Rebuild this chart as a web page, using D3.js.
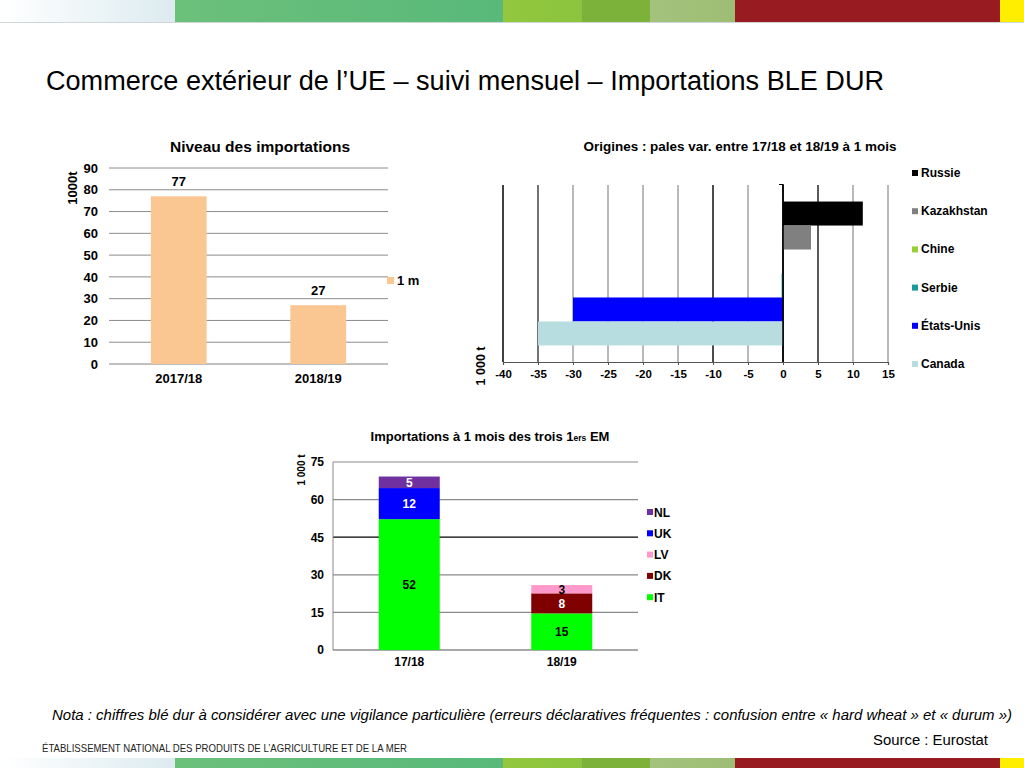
<!DOCTYPE html>
<html><head><meta charset="utf-8">
<script src="https://cdn.jsdelivr.net/npm/d3@7"></script>
<style>
html,body{margin:0;padding:0;background:#fff;}
svg{display:block;font-family:"Liberation Sans",Arial,sans-serif;}
</style></head>
<body>
<svg id="c" width="1024" height="768"></svg>
<script>
// ---------- data ----------
const c1Categories = ["2017/18", "2018/19"];
const c1Values = [77, 27];
const c1Ticks = [0, 10, 20, 30, 40, 50, 60, 70, 80, 90];
const c1Series = ["1 m"];

const c2Origins = ["Russie", "Kazakhstan", "Chine", "Serbie", "États-Unis", "Canada"];
const c2Values = [11.4, 4.0, 0, -0.2, -30, -35];
const c2Colors = ["#000000", "#808080", "#9ACD32", "#1A9A9A", "#0000FF", "#B7DDE0"];
const c2Ticks = [-40, -35, -30, -25, -20, -15, -10, -5, 0, 5, 10, 15];

const c3Categories = ["17/18", "18/19"];
const c3Series = ["IT", "DK", "LV", "UK", "NL"];
const c3IT = [52.2, 14.6];
const c3DK = [0, 8.0];
const c3LV = [0, 3.3];
const c3UK = [12.4, 0];
const c3NL = [4.6, 0];
const c3Colors = {IT: "#00FF00", DK: "#800000", LV: "#FF99CC", UK: "#0000FF", NL: "#7030A0"};
const c3LabelColors = {IT: "#000", DK: "#fff", LV: "#000", UK: "#fff", NL: "#fff"};
const c3Ticks = [0, 15, 30, 45, 60, 75];

const svg = d3.select("#c");
const defs = svg.append("defs");
const FF = "Liberation Sans, Arial, sans-serif";

// ---------- banners ----------
const bannerSegs = [
  {x0: 0, x1: 175, c0: "#ffffff", c1: "#dcebf0"},
  {x0: 175, x1: 503, c0: "#6cc07a", c1: "#58b97a"},
  {x0: 503, x1: 582, c0: "#92c73e", c1: "#8cc43e"},
  {x0: 582, x1: 650, c0: "#7cb23a", c1: "#7cb23a"},
  {x0: 650, x1: 735, c0: "#a3c27c", c1: "#9ebd74"},
  {x0: 735, x1: 1000, c0: "#971b20", c1: "#971b20"},
  {x0: 1000, x1: 1024, c0: "#ffee00", c1: "#ffee00"}
];
bannerSegs.forEach((s, i) => {
  const g = defs.append("linearGradient").attr("id", "bg" + i);
  g.append("stop").attr("offset", "0").attr("stop-color", s.c0);
  g.append("stop").attr("offset", "1").attr("stop-color", s.c1);
});
[[0, 22], [758, 10]].forEach(([y, h]) => {
  bannerSegs.forEach((s, i) => {
    svg.append("rect").attr("x", s.x0).attr("y", y).attr("width", s.x1 - s.x0).attr("height", h)
      .attr("fill", `url(#bg${i})`);
  });
});
svg.append("line").attr("x1", 0).attr("x2", 1024).attr("y1", 22.5).attr("y2", 22.5).attr("stroke", "#cfd6d8");

// ---------- main title ----------
svg.append("text").attr("x", 46).attr("y", 90).attr("font-size", 27).attr("fill", "#000")
  .attr("textLength", 838).attr("lengthAdjust", "spacingAndGlyphs")
  .text("Commerce extérieur de l’UE – suivi mensuel – Importations BLE DUR");

// ---------- chart 1 ----------
{
  const g = svg.append("g");
  const x = d3.scaleBand().domain(c1Categories).range([109, 388]).paddingInner(0.6).paddingOuter(0.3);
  const y = d3.scaleLinear().domain([0, 90]).range([364, 168]);
  g.append("text").attr("x", 260).attr("y", 152).attr("text-anchor", "middle")
    .attr("font-size", 15.5).attr("font-weight", "bold").text("Niveau des importations");
  c1Ticks.forEach(t => {
    g.append("line").attr("x1", 109).attr("x2", 388).attr("y1", y(t)).attr("y2", y(t))
      .attr("stroke", t === 0 ? "#808080" : "#8c8c8c").attr("stroke-width", 1);
  });
  const ax = g.append("g").attr("transform", "translate(109,0)")
    .call(d3.axisLeft(y).tickValues(c1Ticks).tickSize(0).tickPadding(11));
  ax.select(".domain").remove();
  ax.selectAll("text").attr("font-size", 13).attr("font-weight", "bold")
    .attr("font-family", FF).attr("fill", "#000");
  const bx = g.append("g").attr("transform", "translate(0,364)")
    .call(d3.axisBottom(x).tickSize(0).tickPadding(10));
  bx.select(".domain").remove();
  bx.selectAll("text").attr("font-size", 13).attr("font-weight", "bold")
    .attr("font-family", FF).attr("fill", "#000");
  g.selectAll("rect.b").data(c1Values).enter().append("rect")
    .attr("x", (d, i) => x(c1Categories[i])).attr("width", x.bandwidth())
    .attr("y", d => y(d)).attr("height", d => y(0) - y(d)).attr("fill", "#FAC692");
  g.selectAll("text.v").data(c1Values).enter().append("text")
    .attr("x", (d, i) => x(c1Categories[i]) + x.bandwidth() / 2).attr("y", d => y(d) - 10)
    .attr("text-anchor", "middle").attr("font-size", 13).attr("font-weight", "bold").text(d => d);
  g.append("text").attr("transform", "translate(77,188) rotate(-90)").attr("text-anchor", "middle")
    .attr("font-size", 13).attr("font-weight", "bold").text("1000t");
  g.append("rect").attr("x", 387).attr("y", 277).attr("width", 7).attr("height", 7).attr("fill", "#FAC692");
  g.append("text").attr("x", 397).attr("y", 285).attr("font-size", 13).attr("font-weight", "bold").text(c1Series[0]);
}

// ---------- chart 2 ----------
{
  const g = svg.append("g");
  const x = d3.scaleLinear().domain([-40, 15]).range([503, 888]);
  const y = d3.scaleBand().domain(c2Origins).range([185, 362]).paddingInner(0).paddingOuter(0.69);
  g.append("text").attr("x", 740).attr("y", 151).attr("text-anchor", "middle")
    .attr("font-size", 13.5).attr("font-weight", "bold").attr("textLength", 313)
    .attr("lengthAdjust", "spacingAndGlyphs")
    .text("Origines : pales var. entre 17/18 et 18/19 à 1 mois");
  const dark = {"-40": "#000", "-35": "#444", "-10": "#111", "0": "#000", "5": "#222"};
  c2Ticks.forEach(t => {
    g.append("line").attr("x1", x(t)).attr("x2", x(t)).attr("y1", 185).attr("y2", 362)
      .attr("stroke", dark[t] || "#8a8a8a").attr("stroke-width", dark[t] ? 1.5 : 1.2);
  });
  g.selectAll("rect.b").data(c2Values).enter().append("rect")
    .attr("x", d => x(Math.min(0, d))).attr("width", d => Math.abs(x(d) - x(0)))
    .attr("y", (d, i) => y(c2Origins[i])).attr("height", y.bandwidth())
    .attr("fill", (d, i) => c2Colors[i]);
  g.append("line").attr("x1", x(0)).attr("x2", x(0)).attr("y1", 184).attr("y2", 362)
    .attr("stroke", "#000").attr("stroke-width", 1.5);
  g.append("line").attr("x1", x(0) - 4).attr("x2", x(0)).attr("y1", 184.5).attr("y2", 184.5)
    .attr("stroke", "#000").attr("stroke-width", 1);
  const ax = g.append("g").attr("transform", "translate(0,362)")
    .call(d3.axisBottom(x).tickValues(c2Ticks).tickSize(3).tickPadding(5).tickFormat(d3.format("d")));
  ax.select(".domain").attr("stroke", "#555").attr("stroke-width", 1.2);
  ax.selectAll(".tick line").attr("stroke", "#555");
  ax.selectAll("text").attr("font-size", 11.5).attr("font-weight", "bold")
    .attr("font-family", FF).attr("fill", "#000")
    .text(d => d < 0 ? "-" + Math.abs(d) : d);
  g.append("text").attr("transform", "translate(485,366) rotate(-90)").attr("text-anchor", "middle")
    .attr("font-size", 12.5).attr("font-weight", "bold").text("1 000 t");
  c2Origins.forEach((o, i) => {
    const yy = 173 + i * 38.2;
    g.append("rect").attr("x", 912).attr("y", yy - 3).attr("width", 6).attr("height", 6).attr("fill", c2Colors[i]);
    g.append("text").attr("x", 921).attr("y", yy + 4).attr("font-size", 12).attr("font-weight", "bold").text(o);
  });
}

// ---------- chart 3 ----------
{
  const g = svg.append("g");
  const x = d3.scaleBand().domain(c3Categories).range([333, 638]).paddingInner(0.6).paddingOuter(0.3);
  const y = d3.scaleLinear().domain([0, 75]).range([650, 462]);
  const t = g.append("text").attr("x", 490).attr("y", 441).attr("text-anchor", "middle")
    .attr("font-size", 13).attr("font-weight", "bold");
  t.append("tspan").text("Importations à 1 mois des trois 1");
  t.append("tspan").attr("font-size", 8.5).text("ers");
  t.append("tspan").text(" EM");
  c3Ticks.forEach(v => {
    g.append("line").attr("x1", 333).attr("x2", 638).attr("y1", y(v)).attr("y2", y(v))
      .attr("stroke", v === 45 ? "#000" : (v === 0 ? "#555" : "#8a8a8a")).attr("stroke-width", 1.2);
  });
  g.append("line").attr("x1", 333).attr("x2", 333).attr("y1", 462).attr("y2", 650).attr("stroke", "#8a8a8a");
  const ax = g.append("g").attr("transform", "translate(333,0)")
    .call(d3.axisLeft(y).tickValues(c3Ticks).tickSize(0).tickPadding(9));
  ax.select(".domain").remove();
  ax.selectAll("text").attr("font-size", 12).attr("font-weight", "bold")
    .attr("font-family", FF).attr("fill", "#000");
  const bx = g.append("g").attr("transform", "translate(0,650)")
    .call(d3.axisBottom(x).tickSize(0).tickPadding(7));
  bx.select(".domain").remove();
  bx.selectAll("text").attr("font-size", 12).attr("font-weight", "bold")
    .attr("font-family", FF).attr("fill", "#000");
  const table = c3Categories.map((c, i) => ({cat: c, IT: c3IT[i], DK: c3DK[i], LV: c3LV[i], UK: c3UK[i], NL: c3NL[i]}));
  const stack = d3.stack().keys(c3Series)(table);
  stack.forEach(layer => {
    layer.forEach(seg => {
      const v = seg[1] - seg[0];
      if (v <= 0) return;
      g.append("rect").attr("x", x(seg.data.cat)).attr("width", x.bandwidth())
        .attr("y", y(seg[1])).attr("height", y(seg[0]) - y(seg[1])).attr("fill", c3Colors[layer.key]);
      g.append("text").attr("x", x(seg.data.cat) + x.bandwidth() / 2).attr("y", (y(seg[0]) + y(seg[1])) / 2 + 4.5)
        .attr("text-anchor", "middle").attr("font-size", 12).attr("font-weight", "bold")
        .attr("fill", c3LabelColors[layer.key]).text(Math.round(v));
    });
  });
  g.append("text").attr("transform", "translate(305,470) rotate(-90)").attr("text-anchor", "middle")
    .attr("font-size", 10).attr("font-weight", "bold").text("1 000 t");
  const legOrder = c3Series.slice().reverse();
  legOrder.forEach((k, i) => {
    const yy = 512 + i * 21.3;
    g.append("rect").attr("x", 647).attr("y", yy - 3).attr("width", 6).attr("height", 6).attr("fill", c3Colors[k]);
    g.append("text").attr("x", 654).attr("y", yy + 4.5).attr("font-size", 12).attr("font-weight", "bold").text(k);
  });
}

// ---------- footer ----------
svg.append("text").attr("x", 52).attr("y", 720).attr("font-size", 14).attr("font-style", "italic")
  .attr("textLength", 960).attr("lengthAdjust", "spacingAndGlyphs")
  .text("Nota : chiffres blé dur à considérer avec une vigilance particulière (erreurs déclaratives fréquentes : confusion entre « hard wheat » et « durum »)");
svg.append("text").attr("x", 873).attr("y", 745).attr("font-size", 14)
  .attr("textLength", 115).attr("lengthAdjust", "spacingAndGlyphs").text("Source : Eurostat");
svg.append("text").attr("x", 42).attr("y", 752).attr("font-size", 11).attr("fill", "#222")
  .attr("textLength", 365).attr("lengthAdjust", "spacingAndGlyphs")
  .text("ÉTABLISSEMENT NATIONAL DES PRODUITS DE L’AGRICULTURE ET DE LA MER");
</script>
</body></html>
